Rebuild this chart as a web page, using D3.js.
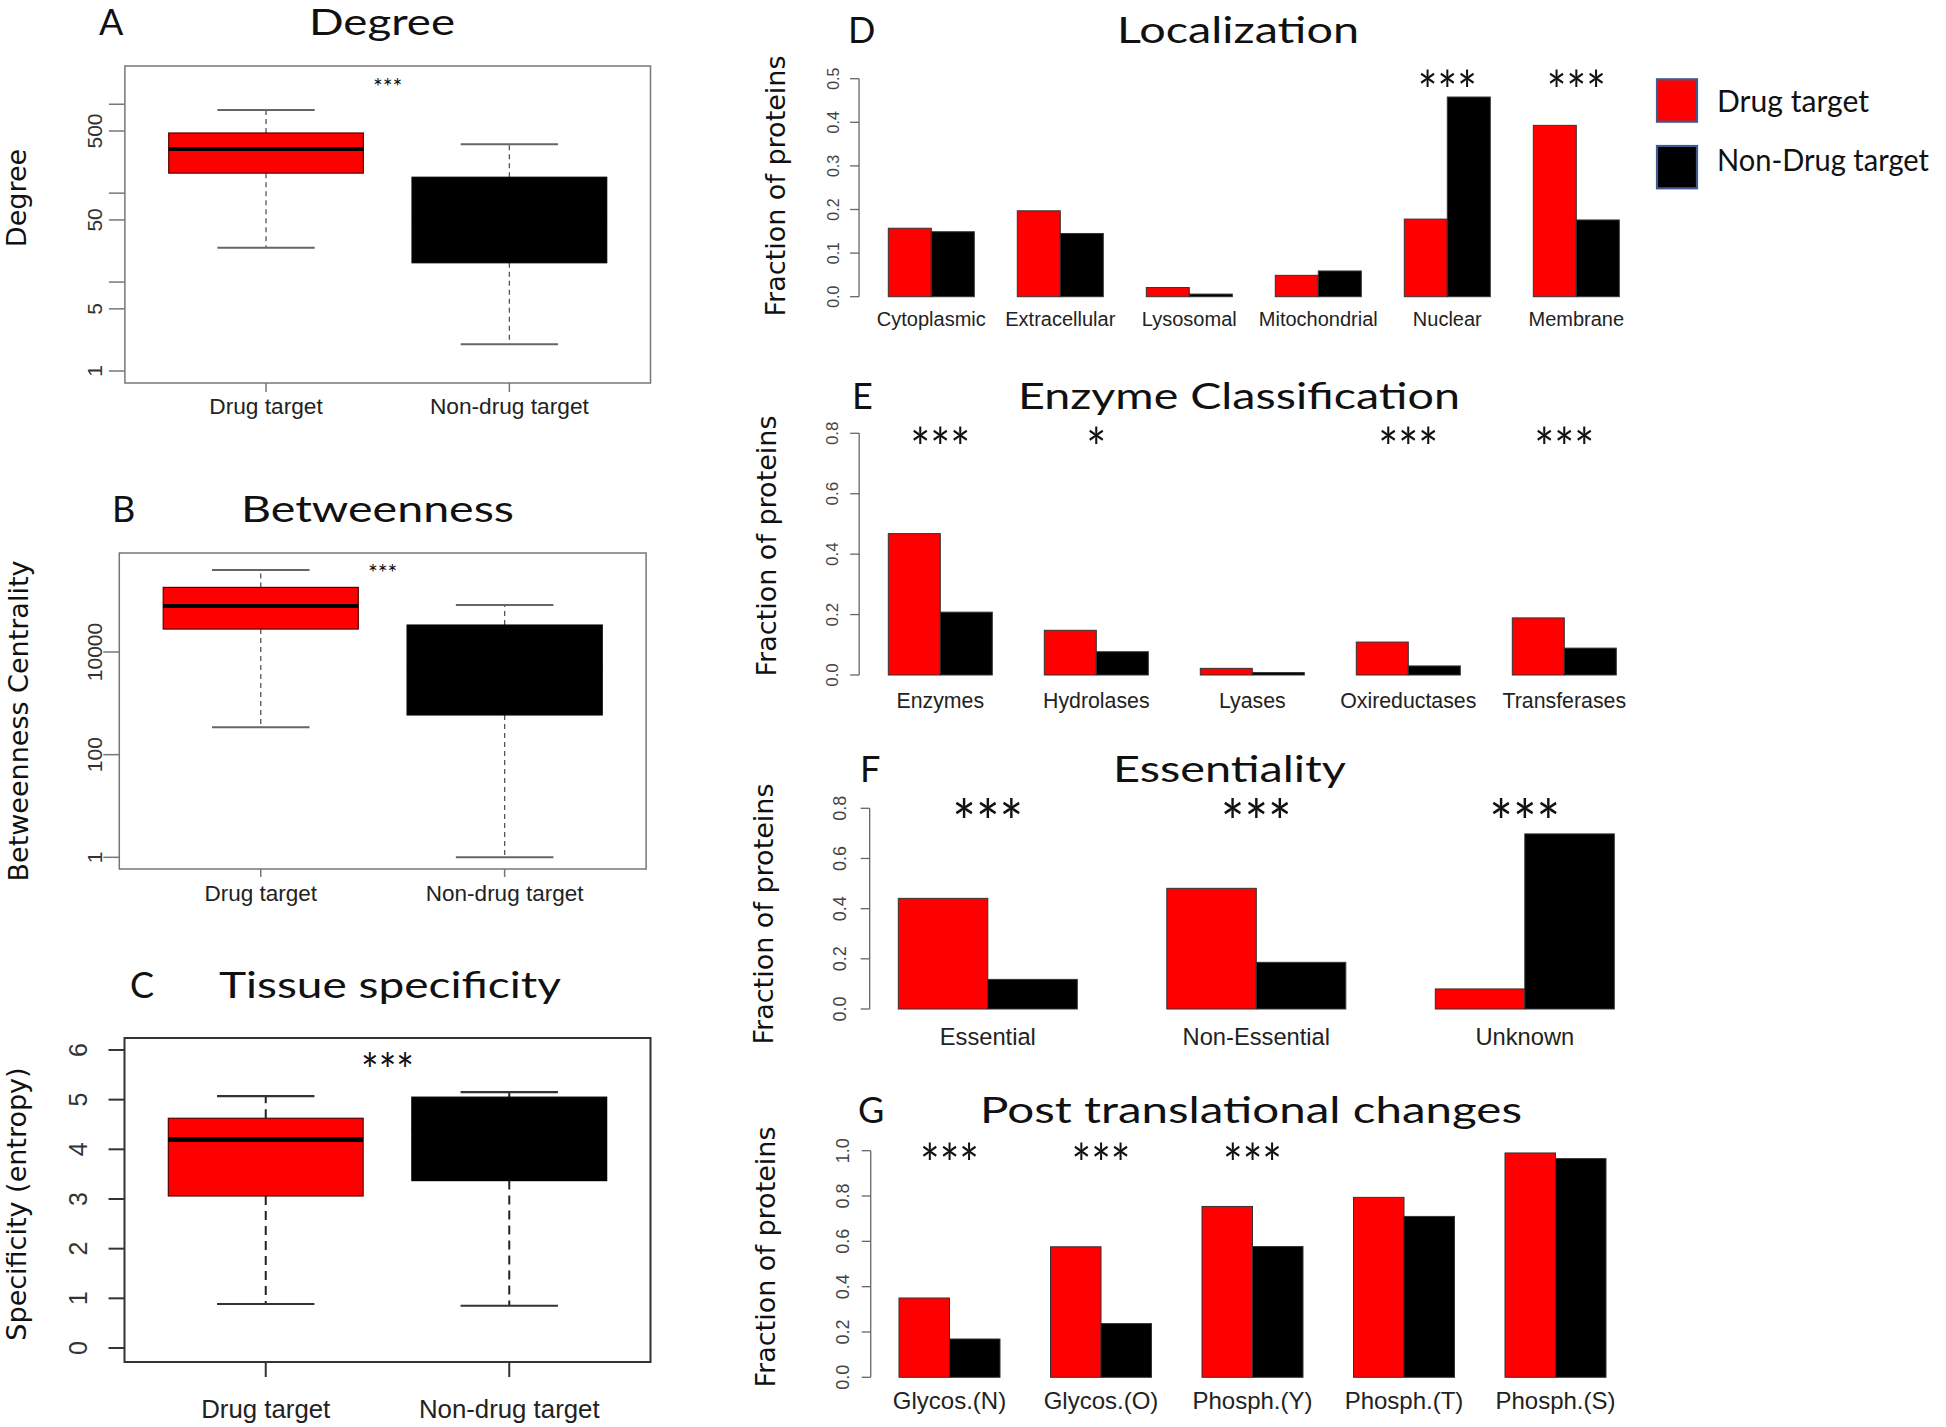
<!DOCTYPE html>
<html><head><meta charset="utf-8">
<script src="https://cdn.jsdelivr.net/npm/d3@7"></script>
<style>body{margin:0;background:#fff} svg{display:block}</style>
</head><body>
<svg id="c" width="1946" height="1427"></svg>
<script>
// ---------------- data ----------------
const boxGroups = ["Drug target", "Non-drug target"];
// [lower whisker, Q1, median, Q3, upper whisker]
const degreeDrug = [24.4, 168, 313, 475, 863];
const degreeNon  = [2, 16.5, 50, 151, 356];
const degreeTicks = [1, 5, 10, 50, 100, 500, 1000];
const degreeTickLabels = ["1", "5", "", "50", "", "500", ""];
const betweenDrug = [343, 28000, 78500, 181500, 394000];
const betweenNon  = [1, 594, 5000, 33500, 82000];
const betweenTicks = [1, 100, 10000];
const betweenTickLabels = ["1", "100", "10000"];
const specDrug = [0.886, 3.06, 4.20, 4.625, 5.07];
const specNon  = [0.85, 3.37, 4.40, 5.05, 5.15];
const specTicks = [0, 1, 2, 3, 4, 5, 6];
const specTickLabels = ["0", "1", "2", "3", "4", "5", "6"];

const seriesNames = ["Drug target", "Non-Drug target"];
const locCats  = ["Cytoplasmic", "Extracellular", "Lysosomal", "Mitochondrial", "Nuclear", "Membrane"];
const locDrug  = [0.157, 0.197, 0.021, 0.049, 0.178, 0.393];
const locNon   = [0.149, 0.145, 0.006, 0.059, 0.458, 0.176];
const locStars = ["", "", "", "", "***", "***"];
const locTicks = [0, 0.1, 0.2, 0.3, 0.4, 0.5];

const enzCats  = ["Enzymes", "Hydrolases", "Lyases", "Oxireductases", "Transferases"];
const enzDrug  = [0.468, 0.148, 0.022, 0.109, 0.189];
const enzNon   = [0.208, 0.077, 0.008, 0.030, 0.089];
const enzStars = ["***", "*", "", "***", "***"];
const enzTicks = [0, 0.2, 0.4, 0.6, 0.8];

const essCats  = ["Essential", "Non-Essential", "Unknown"];
const essDrug  = [0.441, 0.481, 0.080];
const essNon   = [0.118, 0.186, 0.698];
const essStars = ["***", "***", "***"];
const essTicks = [0, 0.2, 0.4, 0.6, 0.8];

const ptmCats  = ["Glycos.(N)", "Glycos.(O)", "Phosph.(Y)", "Phosph.(T)", "Phosph.(S)"];
const ptmDrug  = [0.350, 0.576, 0.754, 0.794, 0.990];
const ptmNon   = [0.169, 0.237, 0.577, 0.710, 0.965];
const ptmStars = ["***", "***", "***", "", ""];
const ptmTicks = [0, 0.2, 0.4, 0.6, 0.8, 1.0];

// ---------------- drawing ----------------
const svg = d3.select("#c");
svg.append("rect").attr("width", 1946).attr("height", 1427).attr("fill", "#fff");
const RED = "#ff0000", BLACK = "#000000";
const TITLE_FONT = "Lato, 'Open Sans', sans-serif";
const AXIS_FONT = "'Liberation Sans', Arial, sans-serif";
const YLAB_FONT = "'DejaVu Sans', Verdana, sans-serif";

function title(letter, lx, text, tx, tw, baseline, fs) {
  svg.append("text").attr("x", lx).attr("y", baseline).attr("font-family", TITLE_FONT)
    .attr("font-size", fs).attr("fill", "#111").text(letter);
  svg.append("text").attr("x", tx).attr("y", baseline).attr("font-family", TITLE_FONT)
    .attr("font-size", fs).attr("fill", "#111")
    .attr("textLength", tw).attr("lengthAdjust", "spacingAndGlyphs").text(text);
}
function yTitle(text, bx, cy, fs) {
  svg.append("text").attr("transform", `translate(${bx},${cy}) rotate(-90)`)
    .attr("text-anchor", "middle").attr("font-family", YLAB_FONT)
    .attr("font-size", fs).attr("fill", "#111").text(text);
}
function stars(text, cx, cy, fs, w) {
  if (!text) return;
  const t = svg.append("text").attr("x", cx).attr("y", cy + 0.56 * fs)
    .attr("text-anchor", "middle").attr("font-family", TITLE_FONT)
    .attr("font-size", fs).attr("fill", "#111").text(text);
  if (w) t.attr("textLength", w * text.length / 3).attr("lengthAdjust", "spacingAndGlyphs");
}

function boxPanel(o) {
  const g = svg.append("g");
  const x = d3.scaleLinear().domain([0.42, 2.58]).range([o.l, o.r]);
  const y = (o.log ? d3.scaleLog() : d3.scaleLinear()).domain(o.ydom).range([o.b, o.t]);
  const st = o.style;
  o.stats.forEach((s, i) => {
    const c = i + 1, cx = x(c);
    const [lo, q1, med, q3, hi] = s;
    g.append("line").attr("x1", cx).attr("x2", cx).attr("y1", y(q3)).attr("y2", y(hi))
      .attr("stroke", st.whisk).attr("stroke-width", st.ww).attr("stroke-dasharray", st.dash);
    g.append("line").attr("x1", cx).attr("x2", cx).attr("y1", y(q1)).attr("y2", y(lo))
      .attr("stroke", st.whisk).attr("stroke-width", st.ww).attr("stroke-dasharray", st.dash);
    [lo, hi].forEach(v => g.append("line").attr("x1", x(c - 0.2)).attr("x2", x(c + 0.2))
      .attr("y1", y(v)).attr("y2", y(v)).attr("stroke", st.staple).attr("stroke-width", st.sw));
    g.append("rect").attr("x", x(c - 0.4)).attr("width", x(c + 0.4) - x(c - 0.4))
      .attr("y", y(q3)).attr("height", y(q1) - y(q3))
      .attr("fill", o.colors[i]).attr("stroke", i === 0 ? "#5a0000" : "#000").attr("stroke-width", 1.2);
    g.append("line").attr("x1", x(c - 0.4)).attr("x2", x(c + 0.4)).attr("y1", y(med)).attr("y2", y(med))
      .attr("stroke", "#000").attr("stroke-width", st.mw);
  });
  g.append("rect").attr("x", o.l).attr("y", o.t).attr("width", o.r - o.l).attr("height", o.b - o.t)
    .attr("fill", "none").attr("stroke", st.frame).attr("stroke-width", st.fw);
  o.ticks.forEach((v, i) => {
    g.append("line").attr("x1", o.l - 16).attr("x2", o.l).attr("y1", y(v)).attr("y2", y(v))
      .attr("stroke", st.frame).attr("stroke-width", st.fw);
    if (o.tickLabels[i]) g.append("text")
      .attr("transform", `translate(${o.tlx},${y(v)}) rotate(-90)`).attr("dy", "0.35em")
      .attr("text-anchor", "middle").attr("font-family", AXIS_FONT).attr("font-size", o.tfs)
      .attr("fill", "#333").text(o.tickLabels[i]);
  });
  boxGroups.forEach((name, i) => {
    const cx = x(i + 1);
    g.append("line").attr("x1", cx).attr("x2", cx).attr("y1", o.b).attr("y2", o.b + o.xtl)
      .attr("stroke", st.frame).attr("stroke-width", st.fw);
    g.append("text").attr("x", cx).attr("y", o.xlb).attr("text-anchor", "middle")
      .attr("font-family", AXIS_FONT).attr("font-size", o.xfs).attr("fill", "#222").text(name);
  });
  stars("***", (o.l + o.r) / 2, o.starY, o.starFs, o.starW);
}

const thin = {whisk: "#555", ww: 1.3, dash: "5,4", staple: "#666", sw: 2, frame: "#777", fw: 1.5, mw: 4};
const thick = {whisk: "#222", ww: 2, dash: "9,6", staple: "#333", sw: 2.2, frame: "#333", fw: 2, mw: 5};

// A
title("A", 99, "Degree", 309, 146, 34.5, 36);
yTitle("Degree", 26, 198, 27);
boxPanel({l: 124.9, r: 650.5, t: 66, b: 383, log: true, ydom: [0.733, 2692],
  stats: [degreeDrug, degreeNon], colors: [RED, BLACK], ticks: degreeTicks, tickLabels: degreeTickLabels,
  tlx: 94.5, tfs: 21, xtl: 9, xlb: 414, xfs: 22.7, style: thin, starY: 81.7, starFs: 24, starW: 29.5});
// B
title("B", 112, "Betweenness", 241, 273, 521.7, 36);
yTitle("Betweenness  Centrality", 28, 721, 27);
boxPanel({l: 119.3, r: 646.1, t: 553, b: 869, log: true, ydom: [0.592, 849000],
  stats: [betweenDrug, betweenNon], colors: [RED, BLACK], ticks: betweenTicks, tickLabels: betweenTickLabels,
  tlx: 94.5, tfs: 21, xtl: 8, xlb: 901, xfs: 22.5, style: thin, starY: 567.7, starFs: 24, starW: 29.5});
// C
title("C", 130, "Tissue specificity", 219, 342, 998.3, 36);
yTitle("Specificity (entropy)", 25.5, 1204, 27);
boxPanel({l: 124.5, r: 650.5, t: 1038, b: 1362, log: false, ydom: [-0.282, 6.241],
  stats: [specDrug, specNon], colors: [RED, BLACK], ticks: specTicks, tickLabels: specTickLabels,
  tlx: 78, tfs: 25, xtl: 15, xlb: 1417.5, xfs: 25.8, style: thick, starY: 1061.7, starFs: 46, starW: 53});

function barPanel(o) {
  const g = svg.append("g");
  const n = o.cats.length;
  const x = d3.scaleLinear().domain([1, 3 * n]).range([o.x0, o.x1]);
  const y = d3.scaleLinear().domain([0, o.ymax]).range([o.y0, o.y1]);
  const axisX = x(1 - 0.04 * (3 * n - 1));
  o.cats.forEach((cat, i) => {
    [o.drug[i], o.non[i]].forEach((v, j) => {
      const u = 1 + 3 * i + j;
      g.append("rect").attr("x", x(u)).attr("width", x(u + 1) - x(u))
        .attr("y", y(v)).attr("height", y(0) - y(v))
        .attr("fill", j === 0 ? RED : BLACK).attr("stroke", "#333").attr("stroke-width", 1);
    });
    const cx = x(2 + 3 * i);
    g.append("text").attr("x", cx).attr("y", o.lb).attr("text-anchor", "middle")
      .attr("font-family", AXIS_FONT).attr("font-size", o.lfs).attr("fill", "#222").text(cat);
    stars(o.stars[i], cx, o.starY, o.starFs, o.starW);
  });
  g.append("line").attr("x1", axisX).attr("x2", axisX).attr("y1", y(0)).attr("y2", y(o.ymax))
    .attr("stroke", "#666").attr("stroke-width", 1.3);
  o.ticks.forEach(v => {
    g.append("line").attr("x1", axisX - 9).attr("x2", axisX).attr("y1", y(v)).attr("y2", y(v))
      .attr("stroke", "#666").attr("stroke-width", 1.3);
    g.append("text").attr("transform", `translate(${o.tlx},${y(v)}) rotate(-90)`).attr("dy", "0.35em")
      .attr("text-anchor", "middle").attr("font-family", AXIS_FONT).attr("font-size", o.tfs)
      .attr("fill", "#444").text(d3.format(".1f")(v));
  });
}

// D
title("D", 848, "Localization", 1117, 242, 43, 36);
yTitle("Fraction of proteins", 785, 186, 27);
barPanel({cats: locCats, drug: locDrug, non: locNon, stars: locStars, ticks: locTicks, ymax: 0.5,
  x0: 888.3, x1: 1619.3, y0: 296.7, y1: 78.7, tlx: 833, tfs: 16, lb: 326, lfs: 20,
  starY: 80, starFs: 54, starW: 59});
// legend
const legY = [[79.3, 121.7, 111.6], [146, 188.3, 170.6]];
seriesNames.forEach((name, i) => {
  svg.append("rect").attr("x", 1657).attr("y", legY[i][0]).attr("width", 40).attr("height", legY[i][1] - legY[i][0])
    .attr("fill", i === 0 ? RED : BLACK).attr("stroke", "#41598f").attr("stroke-width", 2.2);
  svg.append("text").attr("x", 1717).attr("y", legY[i][2]).attr("font-family", TITLE_FONT)
    .attr("font-size", 31).attr("fill", "#111")
    .attr("textLength", i === 0 ? 152 : 212).attr("lengthAdjust", "spacingAndGlyphs").text(name);
});
// E
title("E", 852, "Enzyme Classification", 1018, 442, 409, 36);
yTitle("Fraction of proteins", 776, 546, 27);
barPanel({cats: enzCats, drug: enzDrug, non: enzNon, stars: enzStars, ticks: enzTicks, ymax: 0.8,
  x0: 888.3, x1: 1616.3, y0: 675, y1: 433.3, tlx: 832, tfs: 17, lb: 708, lfs: 21.3,
  starY: 436.7, starFs: 54, starW: 60});
// F
title("F", 860, "Essentiality", 1113, 233, 782, 36);
yTitle("Fraction of proteins", 773, 914, 27);
barPanel({cats: essCats, drug: essDrug, non: essNon, stars: essStars, ticks: essTicks, ymax: 0.8,
  x0: 898.3, x1: 1614.3, y0: 1009, y1: 808.3, tlx: 840, tfs: 18, lb: 1045, lfs: 23.7,
  starY: 810, starFs: 62, starW: 71});
// G
title("G", 858, "Post translational changes", 980, 542, 1123, 36);
yTitle("Fraction of proteins", 775, 1257, 27);
barPanel({cats: ptmCats, drug: ptmDrug, non: ptmNon, stars: ptmStars, ticks: ptmTicks, ymax: 1.0,
  x0: 899, x1: 1606, y0: 1377.3, y1: 1150.7, tlx: 843, tfs: 18, lb: 1409, lfs: 24,
  starY: 1153, starFs: 54, starW: 59});
</script>
</body></html>
